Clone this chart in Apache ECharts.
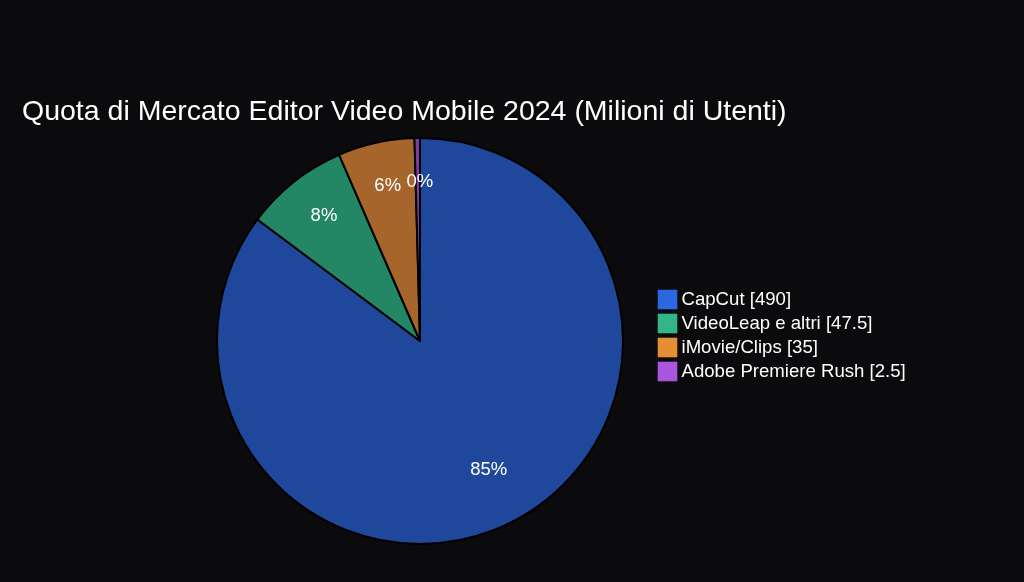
<!DOCTYPE html>
<html>
<head>
<meta charset="utf-8">
<script src="https://cdn.jsdelivr.net/npm/echarts@6/dist/echarts.min.js"></script>
<style>
html,body{margin:0;padding:0;background:#0b0b0d;}
#chart{width:1024px;height:582px;}
</style>
</head>
<body>
<div id="chart"></div>
<script>
var titleText = 'Quota di Mercato Editor Video Mobile 2024 (Milioni di Utenti)';
var categories = ['CapCut', 'VideoLeap e altri', 'iMovie/Clips', 'Adobe Premiere Rush'];
var values = [490, 47.5, 35, 2.5];
var sliceColors = ['#1f489c', '#238664', '#a6652a', '#7a3fa0'];
var legendColors = ['#2d66dd', '#33b587', '#e58e35', '#aa55dd'];

var chart = echarts.init(document.getElementById('chart'));
var mainData = categories.map(function (c, i) {
  return { name: c, value: values[i], itemStyle: { color: sliceColors[i] } };
});
var labelData = categories.map(function (c, i) {
  return { name: c, value: values[i] };
});
var textFont = 'Helvetica, Arial, "Liberation Sans", sans-serif';
chart.setOption({
  backgroundColor: '#0b0b0d',
  animation: false,
  title: {
    text: titleText,
    left: 17,
    top: 93,
    textStyle: { color: '#ffffff', fontSize: 28.5, fontWeight: 'normal', fontFamily: textFont }
  },
  legend: {
    orient: 'vertical',
    left: 652,
    top: 284,
    itemWidth: 20,
    itemHeight: 20,
    itemGap: 3,
    icon: 'rect',
    textStyle: { color: '#ffffff', fontSize: 18.6, fontFamily: textFont, padding: [0, 0, 0, -1] },
    formatter: function (name) {
      var i = categories.indexOf(name);
      return name + ' [' + values[i] + ']';
    },
    data: categories.map(function (c, i) {
      return { name: c, itemStyle: { color: legendColors[i], borderColor: 'rgba(0,0,0,0.35)', borderWidth: 1 } };
    })
  },
  series: [
    {
      type: 'pie',
      center: [420, 341],
      radius: [0, 203],
      startAngle: 90,
      clockwise: true,
      silent: true,
      label: { show: false },
      labelLine: { show: false },
      itemStyle: { borderColor: '#000000', borderWidth: 2 },
      data: mainData
    },
    {
      type: 'pie',
      center: [420, 341],
      radius: [107, 203],
      startAngle: 90,
      clockwise: true,
      silent: true,
      legendHoverLink: false,
      itemStyle: { color: 'rgba(0,0,0,0)', borderWidth: 0 },
      label: {
        show: true,
        position: 'inside',
        color: '#ffffff',
        fontSize: 18.5,
        fontFamily: textFont,
        formatter: function (p) {
          var total = values.reduce(function (a, b) { return a + b; }, 0);
          return Math.round(p.value / total * 100) + '%';
        }
      },
      labelLayout: function (p) {
        return p.dataIndex === 0 ? { dx: -2, dy: -12 } : { dx: 2, dy: -1 };
      },
      labelLine: { show: false },
      data: labelData
    }
  ]
});
</script>
</body>
</html>
